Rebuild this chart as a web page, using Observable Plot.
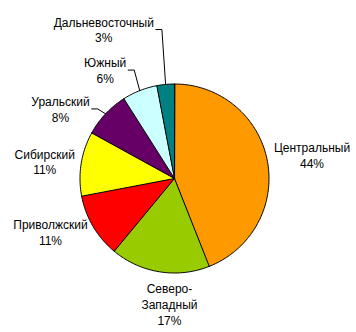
<!DOCTYPE html>
<html><head><meta charset="utf-8">
<script src="https://cdn.jsdelivr.net/npm/d3@7"></script>
<script src="https://cdn.jsdelivr.net/npm/@observablehq/plot@0.6"></script>
<style>body{margin:0;background:#fff}</style>
</head><body><div id="chart"></div>
<script>
// Data
const districts = ["Центральный", "Северо-\nЗападный", "Приволжский", "Сибирский", "Уральский", "Южный", "Дальневосточный"];
const shares = [44, 17, 11, 11, 8, 6, 3];
const colors = ["#FF9900", "#99CC00", "#FF0000", "#FFFF00", "#660066", "#CCFFFF", "#008080"];
// Label layout (polar: degrees clockwise from 12 o'clock, distance in pie radii)
const labelAngle = [80.4, 182.3, 246.7, 277.4, 301.4, 327.4, 334.6];
const labelDist = [1.476, 1.329, 1.429, 1.385, 1.413, 1.362, 1.745];
const hasLeader = [false, false, false, false, true, true, true];

const W = 356, H = 332, CX = 174, CY = 178, R = 94.5;
const FONT = "'Liberation Sans', Arial, sans-serif";
const FS = 12;

const arcs = d3.pie().sort(null).value(d => d)(shares);
const slicePts = [];
arcs.forEach((a, i) => {
  const name = districts[i];
  slicePts.push({name, x: 0, y: 0});
  const n = Math.max(2, Math.ceil((a.endAngle - a.startAngle) / (Math.PI / 180)));
  for (let k = 0; k <= n; k++) {
    const t = a.startAngle + (a.endAngle - a.startAngle) * k / n;
    slicePts.push({name, x: Math.sin(t), y: Math.cos(t)});
  }
});

const ctx = document.createElement("canvas").getContext("2d");
ctx.font = `${FS}px ${FONT}`;
const labels = districts.map((d, i) => {
  const th = labelAngle[i] * Math.PI / 180;
  const text = d + "\n" + shares[i] + "%";
  const w = d3.max(text.split("\n"), s => ctx.measureText(s).width);
  return {text, x: labelDist[i] * Math.sin(th), y: labelDist[i] * Math.cos(th), w, i};
});
const leaders = [];
labels.forEach(l => {
  if (!hasLeader[l.i]) return;
  const mid = (arcs[l.i].startAngle + arcs[l.i].endAngle) / 2;
  leaders.push({k: l.i, x: l.x + (l.w / 2 + 2) / R, y: l.y});
  leaders.push({k: l.i, x: l.x + (l.w / 2 + 8) / R, y: l.y});
  leaders.push({k: l.i, x: Math.sin(mid), y: Math.cos(mid)});
});

const chart = Plot.plot({
  width: W, height: H,
  margin: 0,
  x: {domain: [-1, 1], range: [CX - R, CX + R], axis: null},
  y: {domain: [-1, 1], range: [CY + R, CY - R], axis: null},
  color: {domain: districts, range: colors},
  style: {background: "white", fontFamily: FONT},
  marks: [
    Plot.line(slicePts, {x: "x", y: "y", z: "name", fill: "name", stroke: "black", strokeWidth: 1, curve: "linear-closed", strokeLinejoin: "miter"}),
    Plot.line(leaders, {x: "x", y: "y", z: "k", stroke: "black", strokeWidth: 1, curve: "linear"}),
    Plot.text(labels, {x: "x", y: "y", text: "text", fontSize: FS, fill: "black", lineHeight: 1.3, textAnchor: "middle", lineAnchor: "middle", fontFamily: FONT})
  ]
});
document.getElementById("chart").appendChild(chart);
</script>
</body></html>
